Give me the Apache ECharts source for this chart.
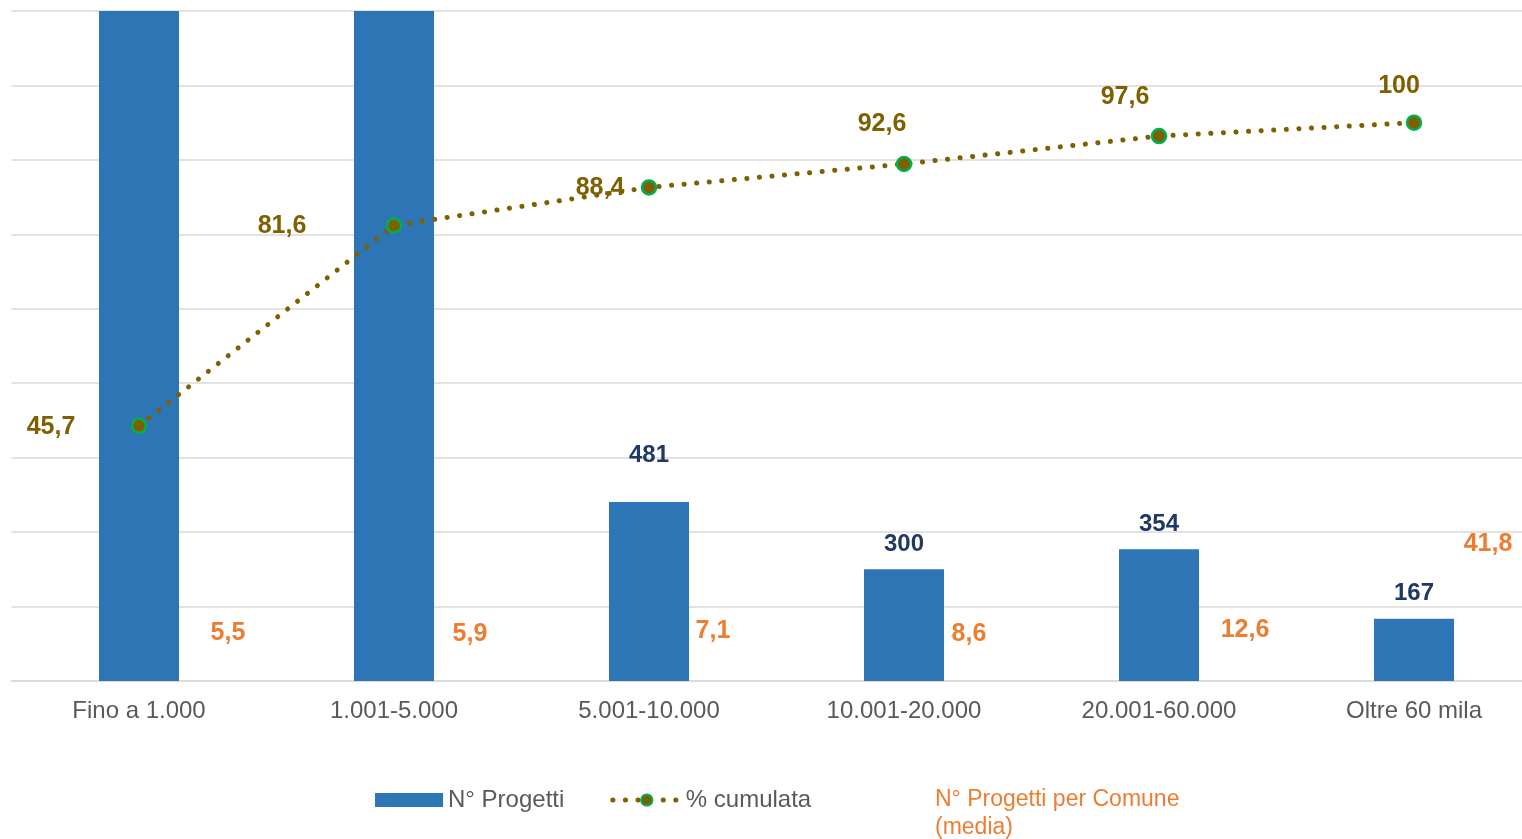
<!DOCTYPE html>
<html>
<head>
<meta charset="utf-8">
<script src="https://cdn.jsdelivr.net/npm/echarts@6/dist/echarts.min.js"></script>
<style>
html,body{margin:0;padding:0;background:#fff;overflow:hidden;width:1522px;height:839px;}
#chart{width:1542px;height:839px;}
</style>
</head>
<body>
<div id="chart"></div>
<script>
// ---- data ----
var categories = ['Fino a 1.000', '1.001-5.000', '5.001-10.000', '10.001-20.000', '20.001-60.000', 'Oltre 60 mila'];
var progetti = [3234, 2540, 481, 300, 354, 167];
var cumulata = [45.7, 81.6, 88.4, 92.6, 97.6, 100];
var perComune = [5.5, 5.9, 7.1, 8.6, 12.6, 41.8];
var seriesNames = ['N° Progetti', '% cumulata', 'N° Progetti per Comune (media)'];

// ---- styling (label placements, not data) ----
var FONT = '"Liberation Sans", Arial, sans-serif';
var barMax = 1800;
var barLabelExtra = {2: [0, -22]};
var lineLabelOffsets = [[-88, 1], [-112, 1], [-49, 1], [-22, -40], [-34, -39], [-15, -37]];
var comuneLabelOffsets = [[89, 0], [76, 2], [64, 2], [65, 9], [86, 15], [74, 0]];
var dotted = [0.1, 12.5];

function fmt(v) { return String(v).replace('.', ','); }

var barData = progetti.map(function (v, i) {
  var d = {value: v};
  if (barLabelExtra[i]) d.label = {offset: barLabelExtra[i]};
  return d;
});
var lineData = cumulata.map(function (v, i) {
  return {value: v, label: {offset: lineLabelOffsets[i]}};
});
var comuneData = perComune.map(function (v, i) {
  return {value: v, label: {offset: comuneLabelOffsets[i]}};
});

var chart = echarts.init(document.getElementById('chart'), null, {renderer: 'canvas'});
chart.setOption({
  animation: false,
  textStyle: {fontFamily: FONT},
  grid: {left: 11.5, top: 11, width: 1530, height: 670, containLabel: false},
  legend: [
    {
      data: [
        {name: seriesNames[0], icon: 'rect'},
        {name: seriesNames[1], lineStyle: {color: '#7F6000', width: 5, type: dotted, cap: 'round'}}
      ],
      left: 375, top: 788, padding: 0,
      itemWidth: 68, itemHeight: 14, itemGap: 46, itemTextGap: 9,
      textStyle: {color: '#595959', fontSize: 24, fontFamily: FONT}
    },
    {
      data: [{name: seriesNames[2], icon: 'rect', itemStyle: {opacity: 0}}],
      left: 862, top: 786, padding: 0,
      itemWidth: 68, itemHeight: 14, itemTextGap: 8,
      formatter: function (n) { return n.replace(' (media)', '\n(media)'); },
      textStyle: {color: '#ED7D31', fontSize: 23, lineHeight: 28, fontFamily: FONT}
    }
  ],
  xAxis: {
    type: 'category',
    data: categories,
    axisLine: {lineStyle: {color: '#D9D9D9', width: 1.5}},
    axisTick: {show: false},
    axisLabel: {color: '#595959', fontSize: 24, margin: 18, fontFamily: FONT}
  },
  yAxis: [
    {
      type: 'value', min: 0, max: barMax, interval: 200,
      axisLabel: {show: false}, axisLine: {show: false}, axisTick: {show: false},
      splitLine: {lineStyle: {color: '#D9D9D9', width: 1.5}}
    },
    {
      type: 'value', min: 0, max: 120, show: false, splitLine: {show: false}
    },
    {
      type: 'value', min: -14.08, max: 259.2, show: false, splitLine: {show: false}
    }
  ],
  series: [
    {
      name: seriesNames[0],
      type: 'bar',
      data: barData,
      barWidth: 80,
      clip: true,
      itemStyle: {color: '#2E75B6'},
      label: {
        show: true, position: 'top', distance: 13,
        color: '#203864', fontWeight: 'bold', fontSize: 24, fontFamily: FONT,
        formatter: function (p) { return p.value > barMax ? '' : String(p.value); }
      },
      z: 2
    },
    {
      name: seriesNames[1],
      type: 'line',
      yAxisIndex: 1,
      data: lineData,
      symbol: 'circle',
      symbolSize: 14,
      itemStyle: {color: '#7F6000', borderColor: '#00B050', borderWidth: 2.5},
      lineStyle: {color: '#7F6000', width: 5, type: dotted, cap: 'round'},
      label: {
        show: true, position: 'inside',
        color: '#7F6000', fontWeight: 'bold', fontSize: 25, fontFamily: FONT,
        formatter: function (p) { return fmt(p.value); }
      },
      z: 3
    },
    {
      name: seriesNames[2],
      type: 'scatter',
      yAxisIndex: 2,
      data: comuneData,
      symbolSize: 1,
      itemStyle: {color: 'rgba(0,0,0,0)', opacity: 1},
      label: {
        show: true, position: 'inside',
        color: '#ED7D31', fontWeight: 'bold', fontSize: 25, fontFamily: FONT,
        formatter: function (p) { return fmt(p.value); }
      },
      z: 4
    }
  ]
});
</script>
</body>
</html>
